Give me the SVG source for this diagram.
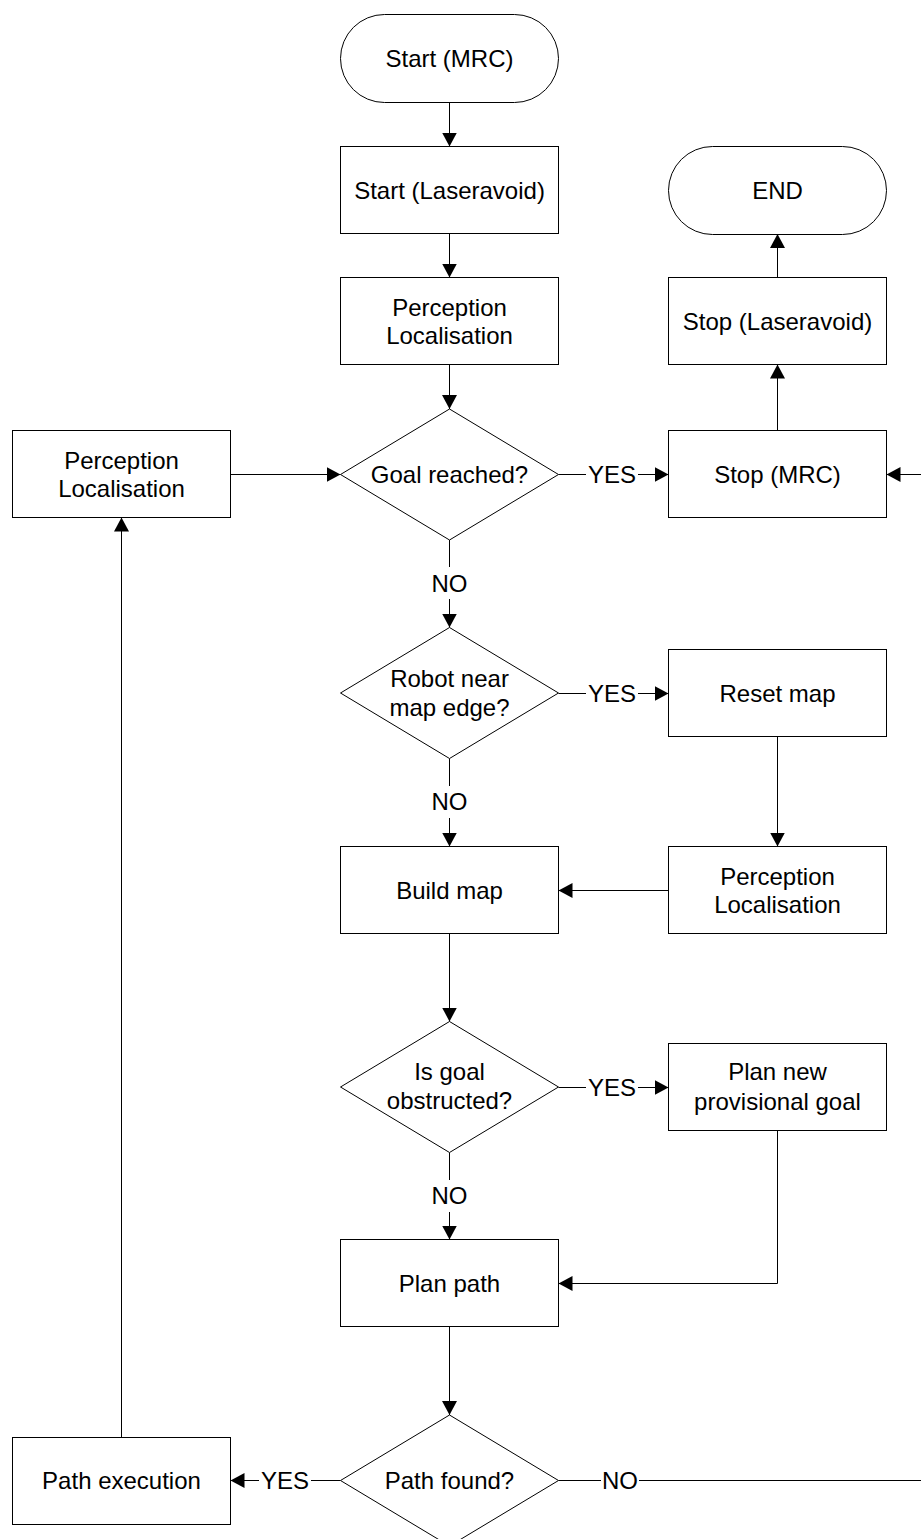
<svg xmlns="http://www.w3.org/2000/svg" width="921" height="1539" viewBox="0 0 921 1539">
  <style>
    .shape { fill: #fff; stroke: #000; stroke-width: 1; }
    .label { font-family: "Liberation Sans", Arial, sans-serif; font-size: 24px; fill: #000; text-anchor: middle; }
    .conn { fill: none; stroke: #000; stroke-width: 1; }
    .arrow { marker-end: url(#head); }
  </style>
  <defs>
    <marker id="head" markerUnits="userSpaceOnUse" markerWidth="14" markerHeight="15" refX="14" refY="7.5" orient="auto">
      <path d="M0,0 L14,7.5 L0,15 Z" fill="#000"/>
    </marker>
  </defs>
  <rect width="921" height="1539" fill="#fff"/>

  <!-- connectors -->
  <g id="connectors">
    <path class="conn arrow" d="M449.5,102.5 V146.5"/>
    <path class="conn arrow" d="M449.5,233.5 V277.5"/>
    <path class="conn arrow" d="M449.5,364.5 V409"/>
    <path class="conn arrow" d="M230.5,474.5 H340.5"/>
    <path class="conn" d="M558.5,474.5 H586"/>
    <path class="conn arrow" d="M638,474.5 H668.5"/>
    <path class="conn arrow" d="M777.5,430.5 V364.5"/>
    <path class="conn arrow" d="M777.5,277.5 V234"/>
    <path class="conn" d="M449.5,540 V567"/>
    <path class="conn arrow" d="M449.5,599 V627.5"/>
    <path class="conn" d="M558.5,693.5 H586"/>
    <path class="conn arrow" d="M638,693.5 H668.5"/>
    <path class="conn arrow" d="M777.5,736.5 V846.5"/>
    <path class="conn arrow" d="M668.5,890.5 H558.5"/>
    <path class="conn" d="M449.5,758.5 V786"/>
    <path class="conn arrow" d="M449.5,818 V846.5"/>
    <path class="conn arrow" d="M449.5,933.5 V1021.5"/>
    <path class="conn" d="M558.5,1087.5 H586"/>
    <path class="conn arrow" d="M638,1087.5 H668.5"/>
    <path class="conn arrow" d="M777.5,1130.5 V1283.5 H558.5"/>
    <path class="conn" d="M449.5,1152.5 V1180"/>
    <path class="conn arrow" d="M449.5,1212 V1239.5"/>
    <path class="conn arrow" d="M449.5,1326.5 V1415"/>
    <path class="conn" d="M340.5,1480.5 H311"/>
    <path class="conn arrow" d="M259,1480.5 H230.5"/>
    <path class="conn arrow" d="M121.5,1437 V517.5"/>
    <path class="conn" d="M558.5,1480.5 H601"/>
    <path class="conn" d="M639,1480.5 H921"/>
    <path class="conn arrow" d="M921,474.5 H886.5"/>
    <text class="label" x="612" y="483">YES</text>
    <text class="label" x="612" y="702">YES</text>
    <text class="label" x="612" y="1096">YES</text>
    <text class="label" x="285" y="1489">YES</text>
    <text class="label" x="449.5" y="591.5">NO</text>
    <text class="label" x="449.5" y="810">NO</text>
    <text class="label" x="449.5" y="1204">NO</text>
    <text class="label" x="620" y="1489">NO</text>
  </g>

  <g id="start-mrc">
    <rect class="shape" x="340.5" y="14.5" width="218" height="88" rx="44" ry="44"/>
    <text class="label" x="449.5" y="66.5">Start (MRC)</text>
  </g>
  <g id="start-laseravoid">
    <rect class="shape" x="340.5" y="146.5" width="218" height="87"/>
    <text class="label" x="449.5" y="198.5">Start (Laseravoid)</text>
  </g>
  <g id="perception-1">
    <rect class="shape" x="340.5" y="277.5" width="218" height="87"/>
    <text class="label" x="449.5" y="315.5">Perception</text>
    <text class="label" x="449.5" y="343.5">Localisation</text>
  </g>
  <g id="goal-reached">
    <path class="shape" d="M449.5,409 L558.5,474.5 L449.5,540 L340.5,474.5 Z"/>
    <text class="label" x="449.5" y="483">Goal reached?</text>
  </g>
  <g id="end">
    <rect class="shape" x="668.5" y="146.5" width="218" height="88" rx="44" ry="44"/>
    <text class="label" x="777.5" y="198.5">END</text>
  </g>
  <g id="stop-laseravoid">
    <rect class="shape" x="668.5" y="277.5" width="218" height="87"/>
    <text class="label" x="777.5" y="329.5">Stop (Laseravoid)</text>
  </g>
  <g id="stop-mrc">
    <rect class="shape" x="668.5" y="430.5" width="218" height="87"/>
    <text class="label" x="777.5" y="482.5">Stop (MRC)</text>
  </g>
  <g id="perception-loop">
    <rect class="shape" x="12.5" y="430.5" width="218" height="87"/>
    <text class="label" x="121.5" y="468.5">Perception</text>
    <text class="label" x="121.5" y="496.5">Localisation</text>
  </g>
  <g id="near-edge">
    <path class="shape" d="M449.5,627.5 L558.5,693 L449.5,758.5 L340.5,693 Z"/>
    <text class="label" x="449.5" y="686.5">Robot near</text>
    <text class="label" x="449.5" y="715.5">map edge?</text>
  </g>
  <g id="reset-map">
    <rect class="shape" x="668.5" y="649.5" width="218" height="87"/>
    <text class="label" x="777.5" y="701.5">Reset map</text>
  </g>
  <g id="perception-2">
    <rect class="shape" x="668.5" y="846.5" width="218" height="87"/>
    <text class="label" x="777.5" y="884.5">Perception</text>
    <text class="label" x="777.5" y="912.5">Localisation</text>
  </g>
  <g id="build-map">
    <rect class="shape" x="340.5" y="846.5" width="218" height="87"/>
    <text class="label" x="449.5" y="898.5">Build map</text>
  </g>
  <g id="goal-obstructed">
    <path class="shape" d="M449.5,1021.5 L558.5,1087 L449.5,1152.5 L340.5,1087 Z"/>
    <text class="label" x="449.5" y="1079.5">Is goal</text>
    <text class="label" x="449.5" y="1108.5">obstructed?</text>
  </g>
  <g id="provisional-goal">
    <rect class="shape" x="668.5" y="1043.5" width="218" height="87"/>
    <text class="label" x="777.5" y="1079.5">Plan new</text>
    <text class="label" x="777.5" y="1109.5">provisional goal</text>
  </g>
  <g id="plan-path">
    <rect class="shape" x="340.5" y="1239.5" width="218" height="87"/>
    <text class="label" x="449.5" y="1291.5">Plan path</text>
  </g>
  <g id="path-found">
    <path class="shape" d="M449.5,1415 L558.5,1480.5 L449.5,1546 L340.5,1480.5 Z"/>
    <text class="label" x="449.5" y="1489">Path found?</text>
  </g>
  <g id="path-execution">
    <rect class="shape" x="12.5" y="1437.5" width="218" height="87"/>
    <text class="label" x="121.5" y="1489">Path execution</text>
  </g>
</svg>
